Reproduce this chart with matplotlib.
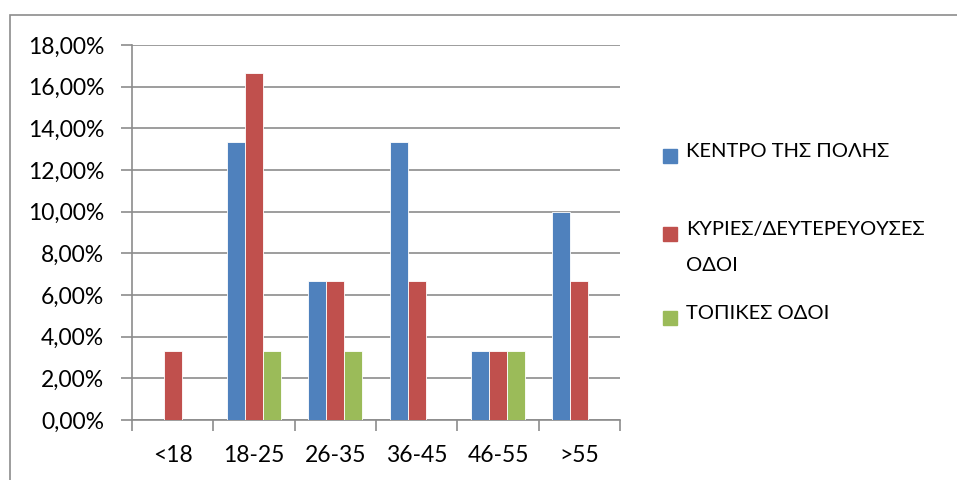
import numpy as np
import matplotlib.pyplot as plt
from matplotlib.ticker import FuncFormatter

plt.rcParams['font.family'] = ['Lato', 'DejaVu Sans']

ilikies = ["<18", "18-25", "26-35", "36-45", "46-55", ">55"]
kentro = [0, 13.33, 6.67, 13.33, 3.33, 10.0]
kyries = [3.33, 16.67, 6.67, 6.67, 3.33, 6.67]
topikes = [0, 3.33, 3.33, 0, 3.33, 0]
onomata = ["ΚΕΝΤΡΟ ΤΗΣ ΠΟΛΗΣ", "ΚΥΡΙΕΣ/ΔΕΥΤΕΡΕΥΟΥΣΕΣ\nΟΔΟΙ", "ΤΟΠΙΚΕΣ ΟΔΟΙ"]
xromata = ["#4F81BD", "#C0504D", "#9BBB59"]

W, H = 957, 480
fig = plt.figure(figsize=(9.57, 4.8), dpi=100)
# outer chart border
fig.patches.append(plt.Rectangle((10 / W, -0.05), 1.0, 1 - 15 / H + 0.05,
                                 transform=fig.transFigure, fill=False,
                                 edgecolor="#8c8c8c", linewidth=1.2))

ax = fig.add_axes([132 / W, 60 / H, (620 - 132) / W, (420 - 45) / H])

x = np.arange(len(ilikies))
w = 0.22
for i, (seira, xr, on) in enumerate(zip([kentro, kyries, topikes], xromata, onomata)):
    ax.bar(x + (i - 1) * w, seira, w, color=xr, label=on, zorder=3,
           edgecolor="white", linewidth=0.6)

ax.set_ylim(0, 18)
ax.set_yticks(np.arange(0, 18.1, 2))
ax.yaxis.set_major_formatter(FuncFormatter(lambda v, p: f"{v:.2f}%".replace(".", ",")))
ax.set_xlim(-0.5, len(ilikies) - 0.5)
ax.set_xticks(x)
ax.set_xticklabels(ilikies)
ax.set_xticks(np.arange(-0.5, len(ilikies)), minor=True)
ax.tick_params(axis="x", which="major", length=0, pad=18, labelsize=16.5)
ax.tick_params(axis="x", which="minor", length=8, color="#8c8c8c", width=1.2)
ax.tick_params(axis="y", length=8, color="#8c8c8c", width=1.2, labelsize=16.5, pad=12)
ax.grid(axis="y", color="#8c8c8c", linewidth=1.2, zorder=0)
for s in ["top", "right"]:
    ax.spines[s].set_visible(False)
for s in ["left", "bottom"]:
    ax.spines[s].set_color("#8c8c8c")
    ax.spines[s].set_linewidth(1.2)

# legend drawn by hand (Excel style: marker next to first line)
leg_y = [156, 234, 318]
for on, xr, yy in zip(onomata, xromata, leg_y):
    fig.patches.append(plt.Rectangle((663 / W, 1 - (yy + 7) / H), 14 / W, 14 / H,
                                     transform=fig.transFigure, color=xr))
    fig.text(686 / W, 1 - (yy - 13) / H, on, fontsize=14.5, va="top", ha="left",
             linespacing=2.35)

fig.savefig("out.png", dpi=100)
